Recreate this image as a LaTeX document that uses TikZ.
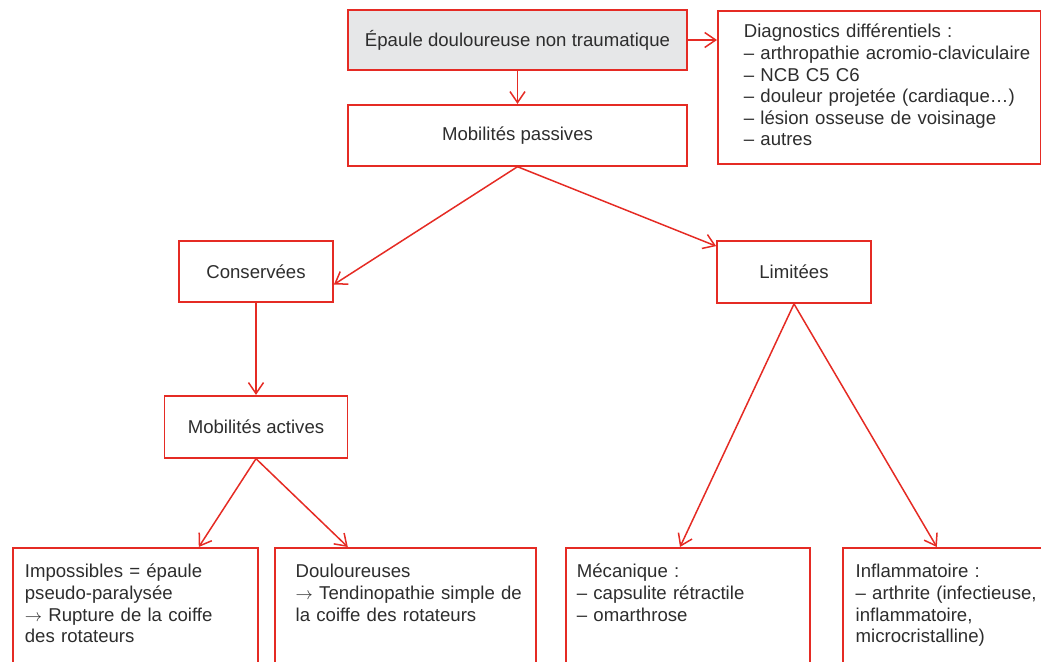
\documentclass[tikz,border=0pt]{standalone}
\usepackage{fontspec}
\setmainfont{Liberation Sans}
\usetikzlibrary{positioning,arrows.meta}
\definecolor{myred}{RGB}{229,43,36}
\definecolor{mygray}{RGB}{230,231,232}
\definecolor{mytext}{RGB}{45,45,45}

\begin{document}
\begin{tikzpicture}[x=1pt,y=-1pt,inner sep=0pt,font=\fontsize{18.6}{21.6}\selectfont,text=mytext]
\tikzstyle{main}=[rectangle, draw=myred, line width=1.8pt, align=center]
\tikzstyle{info}=[rectangle, draw=myred, line width=1.8pt, align=left, anchor=north west, text height=30pt, text depth=130pt]
\tikzstyle{connect}=[-{Straight Barb[length=11pt,width=15pt]}, draw=myred, line width=1.5pt]
\useasboundingbox (0,0) rectangle (1041,661);
\clip (0,0) rectangle (1041,661);
\node[main,fill=mygray,minimum width=339pt,minimum height=60pt] (epaule) at (517.5,40) {Épaule douloureuse non traumatique};
\node[main,minimum width=339pt,minimum height=61pt] (passives) [below=33pt of epaule] {Mobilités passives};
\node[info,text width=323pt,text height=27pt,text depth=126pt] (diag) at (717,10) {\leftskip=26pt Diagnostics différentiels :\\– arthropathie acromio-claviculaire\\– NCB C5 C6\\– douleur projetée (cardiaque…)\\– lésion osseuse de voisinage\\– autres\par};

\node[main,minimum width=154pt,minimum height=61pt] (cons) at (256,271.5) {Conservées};
\node[main,minimum width=154pt,minimum height=62pt] (lim) at (794,272) {Limitées};
\node[main,minimum width=183pt,minimum height=62pt] (actives) [below=92pt of cons] {Mobilités actives};

\node[info,text width=245pt] (imposs) at (12,547) {\leftskip=12pt Impossibles = épaule\\pseudo-paralysée\\$\rightarrow$ Rupture de la coiffe\\des rotateurs\par};
\node[info,text width=261pt] (doul) [right=15pt of imposs.north east,anchor=north west] {\leftskip=21pt Douloureuses\\$\rightarrow$ Tendinopathie simple de\\la coiffe des rotateurs\par};
\node[info,text width=244pt] (meca) at (565,547) {\leftskip=11pt Mécanique :\\– capsulite rétractile\\– omarthrose\par};
\node[info,text width=230pt] (inflam) [right=31pt of meca.north east,anchor=north west] {\leftskip=13pt Inflammatoire :\\– arthrite (infectieuse,\\inflammatoire,\\microcristalline)\par};

\path (epaule) edge[connect] (passives);
\path (epaule.east) edge[connect] (epaule.east -| diag.west);
\path (passives.south) edge[connect] ([yshift=-13pt]cons.east) edge[connect] ([yshift=-6pt]lim.north west);
\path (cons) edge[connect] (actives);
\path (actives.south) edge[connect] ([xshift=-60pt]imposs.north east) edge[connect] ([xshift=74pt]doul.north west);
\path (lim.south) edge[connect] ([xshift=115pt]meca.north west) edge[connect] ([xshift=95pt]inflam.north west);
\end{tikzpicture}
\end{document}
